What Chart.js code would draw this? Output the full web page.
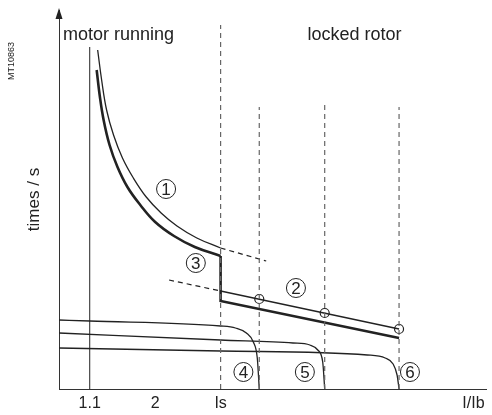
<!DOCTYPE html>
<html lang="en">
<head>
    <meta charset="UTF-8">
    <title>Thermal curves</title>
    <script src="https://cdn.jsdelivr.net/npm/chart.js@4.4.1/dist/chart.umd.min.js"></script>
    <style>
        body { margin: 0; background: #fff; }
    </style>
</head>
<body>
    <canvas id="grafico" width="492" height="415"></canvas>

    <script>
    // x: current (schematic units), y: time (schematic units)
    var curva1 = [[39,339],[43,309],[48,279],[55,254],[64,231],[75,211],[88,192],[103,176],[119,163],[139,151],[163,141]];
    var curva1Ext = [[163,141],[209,128]];
    var curva3 = [[38,319],[41,294],[45,269],[51,244],[59,222],[69,202],[82,184],[97,167],[116,153],[137,142],[163,133]];
    var curva3Caida = [[163,133],[163,88],[343,51]];
    var curva2Ext = [[111,109],[163,98]];
    var curva2 = [[163,98],[343,60]];
    var puntos2 = [[202,90],[268,76],[343,60]];
    var curva4 = [[0,69],[31,68],[163,63],[178,61],[189,56],[196,47],[200,31],[202,0]];
    var curva5 = [[0,56],[163,49],[236,46],[253,44],[261,39],[266,27],[268,0]];
    var curva6 = [[0,41],[163,38],[311,34],[329,31],[337,25],[341,14],[343,0]];

    var linea11 = [[31,0],[31,342]];
    var verticales = [[[163,0],[163,364]], [[202,0],[202,282]], [[268,0],[268,284]], [[343,0],[343,282]]];

    var ticksX = [31, 97, 163, 418];
    var etiquetasX = ['1.1', '2', 'Is', 'I/Ib'];

    var numeros = ['1', '2', '3', '4', '5', '6'];
    var posNumeros = [[108,200],[239,101],[138,126],[186,17],[248,17],[354,17]];

    var zonas = ['motor running', 'locked rotor'];
    var posZonas = [[4,354,'left'],[298,354,'center']];

    function pts(arr) {
      return arr.map(function (p) { return { x: p[0], y: p[1] }; });
    }

    function serie(arr, ancho, discontinua, color, suave) {
      return {
        data: pts(arr),
        showLine: true,
        borderColor: color || '#222',
        borderWidth: ancho,
        borderDash: discontinua ? [5, 4] : [],
        pointRadius: 0,
        tension: suave ? 0.4 : 0,
        cubicInterpolationMode: suave === 'm' ? 'monotone' : 'default',
        fill: false,
        clip: false
      };
    }

    var datasets = [
      serie(linea11, 1, false),
      serie(curva1, 1.3, false, null, true),
      serie(curva1Ext, 1.2, true),
      serie(curva3, 2.6, false, null, true),
      serie(curva3Caida, 2.6, false),
      serie(curva2Ext, 1.2, true),
      serie(curva2, 1.3, false),
      serie(curva4, 1.3, false, null, 'm'),
      serie(curva5, 1.3, false, null, 'm'),
      serie(curva6, 1.3, false, null, 'm')
    ];
    verticales.forEach(function (v) {
      datasets.unshift(serie(v, 1.2, true, '#666'));
    });
    datasets.push({
      data: pts(puntos2),
      showLine: false,
      pointRadius: 4.5,
      pointBackgroundColor: '#fff',
      pointBorderColor: '#222',
      pointBorderWidth: 1.2,
      clip: false
    });

    var textos = {
      id: 'textos',
      afterDraw: function (chart) {
        var ctx = chart.ctx;
        var sx = chart.scales.x, sy = chart.scales.y;
        ctx.save();
        // arrow on the time axis
        var ax = sx.left, ay = sy.top;
        ctx.fillStyle = '#222';
        ctx.beginPath();
        ctx.moveTo(ax, ay - 2);
        ctx.lineTo(ax - 3.5, ay + 9);
        ctx.lineTo(ax + 3.5, ay + 9);
        ctx.closePath();
        ctx.fill();

        ctx.font = '18px "Liberation Sans", Arial, sans-serif';
        ctx.textBaseline = 'middle';
        for (var i = 0; i < zonas.length; i++) {
          ctx.textAlign = posZonas[i][2];
          ctx.fillText(zonas[i], sx.getPixelForValue(posZonas[i][0]), sy.getPixelForValue(posZonas[i][1]));
        }

        // circled curve numbers
        ctx.textAlign = 'center';
        ctx.font = '17px "Liberation Sans", Arial, sans-serif';
        ctx.strokeStyle = '#222';
        ctx.lineWidth = 1;
        for (var j = 0; j < numeros.length; j++) {
          var px = sx.getPixelForValue(posNumeros[j][0]);
          var py = sy.getPixelForValue(posNumeros[j][1]);
          ctx.beginPath();
          ctx.arc(px, py, 9.5, 0, Math.PI * 2);
          ctx.stroke();
          ctx.fillText(numeros[j], px, py + 1);
        }

        ctx.font = '9px "Liberation Sans", Arial, sans-serif';
        ctx.translate(12, 61);
        ctx.rotate(-Math.PI / 2);
        ctx.fillText('MT10863', 0, 0);
        ctx.restore();
      }
    };

    new Chart(document.getElementById('grafico'), {
      type: 'scatter',
      data: { datasets: datasets },
      options: {
        responsive: false,
        animation: false,
        layout: { padding: { top: 10, right: 2, left: 0, bottom: 0 } },
        plugins: { legend: { display: false }, tooltip: { enabled: false } },
        scales: {
          x: {
            type: 'linear',
            min: 0,
            max: 431,
            grid: { display: false, drawTicks: false },
            border: { display: true, color: '#333', width: 1 },
            afterBuildTicks: function (scale) {
              scale.ticks = ticksX.map(function (v) { return { value: v }; });
            },
            afterFit: function (scale) { scale.height = 26; },
            ticks: {
              autoSkip: false,
              maxRotation: 0,
              padding: 5,
              color: '#222',
              font: { family: '"Liberation Sans", Arial, sans-serif', size: 16 },
              callback: function (value, index) { return etiquetasX[index]; }
            }
          },
          y: {
            type: 'linear',
            min: 0,
            max: 379,
            grid: { display: false, drawTicks: false },
            border: { display: true, color: '#333', width: 1 },
            ticks: { display: false },
            afterFit: function (scale) { scale.width = 59; },
            title: {
              display: true,
              text: 'times / s',
              color: '#222',
              padding: { top: 24, bottom: 0 },
              font: { family: '"Liberation Sans", Arial, sans-serif', size: 17 }
            }
          }
        }
      },
      plugins: [textos]
    });
    </script>
</body>
</html>
